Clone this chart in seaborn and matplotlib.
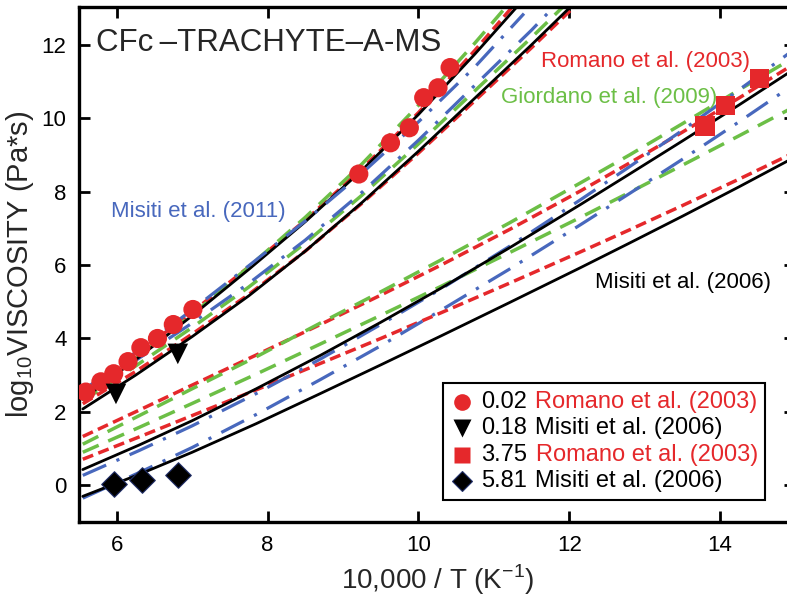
import numpy as np
import pandas as pd
import matplotlib
matplotlib.use("Agg")
import matplotlib.pyplot as plt
import seaborn as sns
from matplotlib.lines import Line2D
from matplotlib.offsetbox import (AnchoredOffsetbox, VPacker, HPacker,
                                  TextArea, DrawingArea)

# ---- data ---------------------------------------------------------------
# measured points (x = 10,000/T, y = log10 viscosity)
circ_x = [5.59, 5.79, 5.96, 6.15, 6.32, 6.54, 6.75, 7.01, 9.21, 9.63, 9.88, 10.07, 10.26, 10.42]
circ_y = [2.54, 2.82, 3.04, 3.37, 3.75, 4.00, 4.38, 4.79, 8.48, 9.33, 9.74, 10.56, 10.83, 11.38]
tri_x = [5.99, 6.81]
tri_y = [2.49, 3.58]
sq_x = [13.80, 14.07, 14.52]
sq_y = [9.79, 10.34, 11.08]
dia_x = [5.96, 6.34, 6.81]
dia_y = [0.03, 0.14, 0.27]

# model curves, nearly anhydrous melts (0.02 wt% cluster)
up_x1 = [5.55, 6.25, 7.0, 7.75, 8.5, 9.25, 10.0, 10.75, 11.4]
up_red1 = [2.50, 3.55, 4.72, 5.95, 7.22, 8.62, 10.15, 11.85, 13.40]
up_grn1 = [2.38, 3.45, 4.65, 5.95, 7.30, 8.75, 10.35, 12.05, 13.60]
up_blk1 = [2.35, 3.42, 4.62, 5.88, 7.18, 8.58, 10.10, 11.75, 13.25]
up_blu1 = [2.58, 3.62, 4.78, 5.98, 7.20, 8.50, 9.90, 11.40, 12.85]
# 0.18 wt%
up_x2 = [5.55, 6.25, 7.0, 7.75, 8.5, 9.25, 10.0, 10.75, 11.5, 12.2]
up_blk2 = [2.08, 3.00, 4.05, 5.16, 6.38, 7.70, 9.10, 10.55, 12.00, 13.40]
up_red2 = [2.22, 3.10, 4.12, 5.20, 6.38, 7.68, 9.05, 10.48, 11.92, 13.30]
up_grn2 = [2.30, 3.25, 4.30, 5.40, 6.60, 7.90, 9.30, 10.75, 12.20, 13.60]
up_blu2 = [2.48, 3.40, 4.42, 5.50, 6.68, 7.98, 9.40, 10.90, 12.40, 13.90]

# model curves, hydrous melts (3.75 and 5.81 wt%)
lo_x = [5.55, 6.3, 7.0, 7.85, 8.7, 9.5, 10.3, 11.2, 12.15, 12.8, 13.5, 14.25, 15.0]
lo_red1 = [1.33, 2.05, 2.73, 3.55, 4.38, 5.18, 6.00, 6.96, 8.02, 8.78, 9.62, 10.55, 11.50]
lo_grn1 = [1.12, 1.90, 2.63, 3.50, 4.42, 5.27, 6.14, 7.14, 8.24, 9.00, 9.85, 10.77, 11.68]
lo_blk1 = [0.43, 1.10, 1.76, 2.63, 3.54, 4.44, 5.37, 6.46, 7.65, 8.48, 9.38, 10.36, 11.36]
lo_blu1 = [0.27, 0.95, 1.62, 2.50, 3.44, 4.38, 5.35, 6.50, 7.78, 8.68, 9.67, 10.77, 11.90]
lo_grn2 = [0.90, 1.58, 2.23, 3.03, 3.85, 4.63, 5.42, 6.33, 7.30, 7.98, 8.72, 9.52, 10.33]
lo_red2 = [0.71, 1.32, 1.90, 2.60, 3.32, 4.00, 4.70, 5.50, 6.36, 6.96, 7.62, 8.34, 9.08]
lo_blu2 = [-0.35, 0.35, 1.03, 1.93, 2.88, 3.80, 4.77, 5.88, 7.10, 7.95, 8.88, 9.90, 10.95]
lo_blk2 = [-0.30, 0.30, 0.90, 1.68, 2.50, 3.28, 4.07, 4.97, 5.93, 6.60, 7.33, 8.13, 8.95]

RED = '#e5282b'
GREEN = '#6cbf46'
BLUE = '#4868bd'
BLACK = '#000000'

STYLES = {
    'red': dict(color=RED, lw=2.5, ls=(0, (3.2, 1.6))),
    'green': dict(color=GREEN, lw=2.5, ls=(0, (5.0, 3.0))),
    'blue': dict(color=BLUE, lw=2.3, ls=(0, (8.0, 3.5, 1.0, 3.5))),
    'black': dict(color=BLACK, lw=2.0, ls='-'),
}

curves = [
    (up_x2, up_grn2, 'green'), (up_x2, up_blu2, 'blue'), (up_x2, up_red2, 'red'), (up_x2, up_blk2, 'black'),
    (up_x1, up_red1, 'red'), (up_x1, up_grn1, 'green'), (up_x1, up_blk1, 'black'), (up_x1, up_blu1, 'blue'),
    (lo_x, lo_red2, 'red'), (lo_x, lo_grn2, 'green'), (lo_x, lo_blu2, 'blue'), (lo_x, lo_blk2, 'black'),
    (lo_x, lo_red1, 'red'), (lo_x, lo_grn1, 'green'), (lo_x, lo_blu1, 'blue'), (lo_x, lo_blk1, 'black'),
]

# ---- figure ------------------------------------------------------------
sns.set_style('ticks')
plt.rcParams['font.family'] = ['Liberation Sans', 'DejaVu Sans']
plt.rcParams['mathtext.fontset'] = 'custom'
plt.rcParams['mathtext.rm'] = 'Liberation Sans'

fig = plt.figure(figsize=(7.87, 6.08), dpi=100)
ax = fig.add_axes([0.1004, 0.1414, 0.9104, 0.8471])

for cx, cy, key in curves:
    st = STYLES[key]
    sns.lineplot(x=cx, y=cy, ax=ax, color=st['color'], linewidth=st['lw'],
                 linestyle=st['ls'], estimator=None, sort=False, zorder=2)

pts = pd.DataFrame({'x': circ_x, 'y': circ_y})
sns.scatterplot(data=pts, x='x', y='y', ax=ax, marker='o', s=190, color=RED,
                edgecolor='none', zorder=3)
sns.scatterplot(x=tri_x, y=tri_y, ax=ax, marker='v', s=220, color=BLACK,
                edgecolor='none', zorder=3)
sns.scatterplot(x=sq_x, y=sq_y, ax=ax, marker='s', s=190, color=RED,
                edgecolor='none', zorder=3)
sns.scatterplot(x=dia_x, y=dia_y, ax=ax, marker='D', s=170, color=BLACK,
                edgecolor='#22306a', linewidth=0.8, zorder=3)

ax.set_xlim(5.5, 15.0)
ax.set_ylim(-1.0, 13.03)
ax.set_xticks([6, 8, 10, 12, 14])
ax.set_yticks([0, 2, 4, 6, 8, 10, 12])
ax.tick_params(direction='in', length=8, width=2, labelsize=16, pad=9,
               top=True, right=True, colors=BLACK)
for sp in ax.spines.values():
    sp.set_linewidth(2.4)
    sp.set_color(BLACK)

ax.set_xlabel('10,000 / T (K$^{-1}$)', fontsize=20, labelpad=5)
ax.set_ylabel('log$_{10}$VISCOSITY (Pa*s)', fontsize=21, labelpad=4)

# annotations
ax.text(5.72, 12.05, 'CFc\u2009\u2013TRACHYTE\u2013A-MS', fontsize=22.5, va='center', ha='left')
ax.text(11.62, 11.55, 'Romano et al. (2003)', fontsize=16, color=RED, va='center', ha='left')
ax.text(11.09, 10.57, 'Giordano et al. (2009)', fontsize=16, color=GREEN, va='center', ha='left')
ax.text(5.92, 7.45, 'Misiti et al. (2011)', fontsize=16, color=BLUE, va='center', ha='left')
ax.text(12.34, 5.53, 'Misiti et al. (2006)', fontsize=16, color=BLACK, va='center', ha='left')

# legend: marker, water content (black) and source (coloured)
water = ['0.02', '0.18', '3.75', '5.81']
authors = ['Romano et al. (2003)', 'Misiti et al. (2006)',
           'Romano et al. (2003)', 'Misiti et al. (2006)']
auth_col = [RED, BLACK, RED, BLACK]
leg_marks = [dict(marker='o', ms=12, color=RED, mec='none'),
             dict(marker='v', ms=13, color=BLACK, mec='none'),
             dict(marker='s', ms=11, color=RED, mec='none'),
             dict(marker='D', ms=10, color=BLACK, mec='#22306a', mew=0.8)]
rows = []
for mk, w, a, c in zip(leg_marks, water, authors, auth_col):
    da = DrawingArea(16, 16, 0, 0)
    da.add_artist(Line2D([8], [8], ls='none', **mk))
    rows.append(HPacker(children=[
        da,
        TextArea(w, textprops=dict(fontsize=17, color=BLACK)),
        TextArea(a, textprops=dict(fontsize=17, color=c)),
    ], align='center', pad=0, sep=6))
box = VPacker(children=rows, align='left', pad=0, sep=3.0)
anch = AnchoredOffsetbox(loc='lower right', child=box, pad=0.55, borderpad=0,
                         frameon=True, bbox_to_anchor=(0.958, 0.043),
                         bbox_transform=ax.transAxes)
anch.patch.set_boxstyle('square', pad=0)
anch.patch.set_edgecolor(BLACK)
anch.patch.set_linewidth(1.5)
anch.set_zorder(10)
ax.add_artist(anch)

fig.savefig('out.png', dpi=100)
